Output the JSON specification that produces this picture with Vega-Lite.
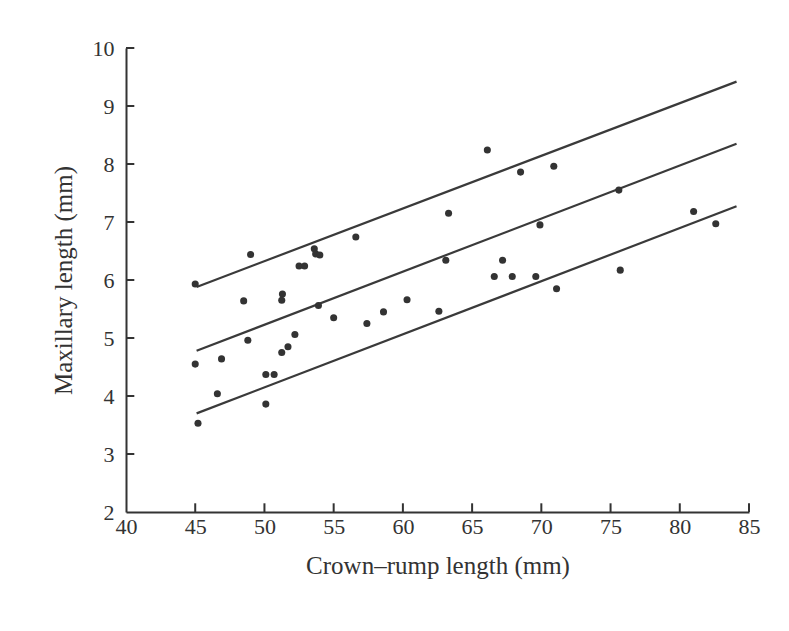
{
  "$schema": "https://vega.github.io/schema/vega-lite/v6.json",
  "autosize": {"type": "none"},
  "width": 623,
  "height": 464,
  "padding": {"left": 126, "top": 48, "right": 40, "bottom": 119},
  "background": "white",
  "config": {
    "view": {"stroke": null},
    "font": "Liberation Serif",
    "axis": {
      "labelFont": "Liberation Serif",
      "titleFont": "Liberation Serif",
      "labelFontSize": 22,
      "titleFontSize": 25,
      "titleFontWeight": "normal",
      "labelColor": "#333",
      "titleColor": "#333",
      "domainColor": "#333",
      "domainWidth": 2,
      "ticks": false,
      "grid": false
    }
  },
  "datasets": {
    "pts": [
      {"crl": 45.0, "max": 5.93}, {"crl": 45.0, "max": 4.55}, {"crl": 45.2, "max": 3.53},
      {"crl": 46.6, "max": 4.04}, {"crl": 46.9, "max": 4.64}, {"crl": 48.5, "max": 5.64},
      {"crl": 49.0, "max": 6.44}, {"crl": 48.8, "max": 4.96}, {"crl": 50.1, "max": 4.37},
      {"crl": 50.1, "max": 3.86}, {"crl": 50.7, "max": 4.37}, {"crl": 51.3, "max": 5.76},
      {"crl": 51.25, "max": 5.65}, {"crl": 51.25, "max": 4.75}, {"crl": 51.7, "max": 4.85},
      {"crl": 52.2, "max": 5.06}, {"crl": 52.5, "max": 6.24}, {"crl": 52.9, "max": 6.24},
      {"crl": 53.6, "max": 6.54}, {"crl": 53.7, "max": 6.45}, {"crl": 54.0, "max": 6.43},
      {"crl": 53.9, "max": 5.56}, {"crl": 55.0, "max": 5.35}, {"crl": 56.6, "max": 6.74},
      {"crl": 57.4, "max": 5.25}, {"crl": 58.6, "max": 5.45}, {"crl": 60.3, "max": 5.66},
      {"crl": 62.6, "max": 5.46}, {"crl": 63.1, "max": 6.34}, {"crl": 63.3, "max": 7.15},
      {"crl": 66.1, "max": 8.24}, {"crl": 66.6, "max": 6.06}, {"crl": 67.2, "max": 6.34},
      {"crl": 67.9, "max": 6.06}, {"crl": 68.5, "max": 7.86}, {"crl": 69.6, "max": 6.06},
      {"crl": 69.9, "max": 6.95}, {"crl": 70.9, "max": 7.96}, {"crl": 71.1, "max": 5.85},
      {"crl": 75.6, "max": 7.55}, {"crl": 75.7, "max": 6.17}, {"crl": 81.0, "max": 7.18},
      {"crl": 82.6, "max": 6.97}
    ],
    "lines": [
      {"band": "upper", "crl": 45.1, "max": 5.88}, {"band": "upper", "crl": 84.1, "max": 9.42},
      {"band": "mean", "crl": 45.1, "max": 4.78}, {"band": "mean", "crl": 84.1, "max": 8.35},
      {"band": "lower", "crl": 45.1, "max": 3.70}, {"band": "lower", "crl": 84.1, "max": 7.27}
    ],
    "xticks": [
      {"crl": 45, "y0": 2, "y1": 2.15}, {"crl": 50, "y0": 2, "y1": 2.15}, {"crl": 55, "y0": 2, "y1": 2.15},
      {"crl": 60, "y0": 2, "y1": 2.15}, {"crl": 65, "y0": 2, "y1": 2.15}, {"crl": 70, "y0": 2, "y1": 2.15},
      {"crl": 75, "y0": 2, "y1": 2.15}, {"crl": 80, "y0": 2, "y1": 2.15}, {"crl": 85, "y0": 2, "y1": 2.15}
    ],
    "yticks": [
      {"max": 3, "x0": 40, "x1": 40.6}, {"max": 4, "x0": 40, "x1": 40.6}, {"max": 5, "x0": 40, "x1": 40.6},
      {"max": 6, "x0": 40, "x1": 40.6}, {"max": 7, "x0": 40, "x1": 40.6}, {"max": 8, "x0": 40, "x1": 40.6},
      {"max": 9, "x0": 40, "x1": 40.6}, {"max": 10, "x0": 40, "x1": 40.6}
    ]
  },
  "layer": [
    {
      "data": {"name": "lines"},
      "mark": {"type": "line", "color": "#3a3a3a", "strokeWidth": 2.2},
      "encoding": {
        "x": {"field": "crl", "type": "quantitative", "scale": {"domain": [40, 85], "nice": false, "zero": false},
          "axis": {"title": "Crown–rump length (mm)", "values": [40,45,50,55,60,65,70,75,80,85], "format": "d", "labelPadding": 4, "titlePadding": 16, "labelFlush": false}},
        "y": {"field": "max", "type": "quantitative", "scale": {"domain": [2, 10], "nice": false, "zero": false},
          "axis": {"title": "Maxillary length (mm)", "values": [2,3,4,5,6,7,8,9,10], "format": "d", "labelPadding": 12, "titlePadding": 16, "labelFlush": false}},
        "detail": {"field": "band"}
      }
    },
    {
      "data": {"name": "xticks"},
      "mark": {"type": "rule", "color": "#333", "strokeWidth": 2},
      "encoding": {
        "x": {"field": "crl", "type": "quantitative"},
        "y": {"field": "y0", "type": "quantitative"},
        "y2": {"field": "y1"}
      }
    },
    {
      "data": {"name": "yticks"},
      "mark": {"type": "rule", "color": "#333", "strokeWidth": 2},
      "encoding": {
        "y": {"field": "max", "type": "quantitative"},
        "x": {"field": "x0", "type": "quantitative"},
        "x2": {"field": "x1"}
      }
    },
    {
      "data": {"name": "pts"},
      "mark": {"type": "circle", "color": "#333", "opacity": 1, "size": 50},
      "encoding": {
        "x": {"field": "crl", "type": "quantitative"},
        "y": {"field": "max", "type": "quantitative"}
      }
    }
  ]
}
